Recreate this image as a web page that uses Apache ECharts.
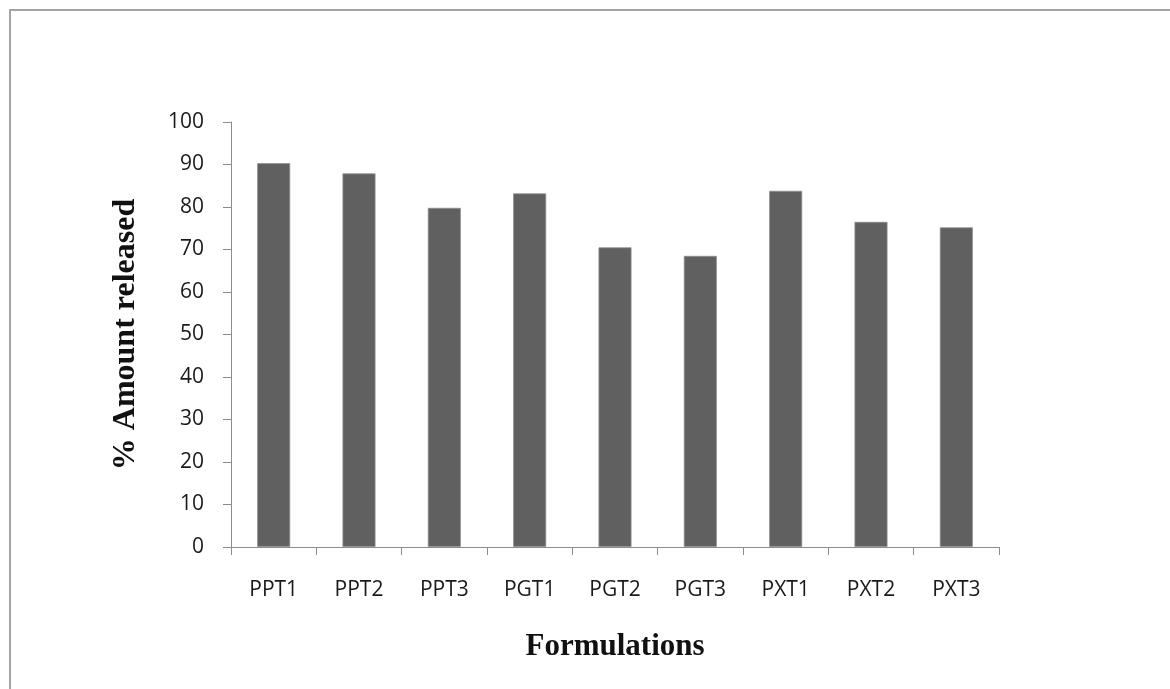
<!DOCTYPE html>
<html>
<head>
<meta charset="utf-8">
<script src="https://cdn.jsdelivr.net/npm/echarts@6/dist/echarts.min.js"></script>
<style>html,body{margin:0;padding:0;background:#fff;}#c{width:1170px;height:689px;}</style>
</head>
<body>
<div id="c"></div>
<script>
var categories = ['PPT1','PPT2','PPT3','PGT1','PGT2','PGT3','PXT1','PXT2','PXT3'];
var amountReleased = [90.3, 87.9, 79.8, 83.2, 70.5, 68.5, 83.8, 76.5, 75.2];
var yMin = 0, yMax = 100, yStep = 10;

var chart = echarts.init(document.getElementById('c'), null, {renderer:'canvas'});
chart.setOption({
  backgroundColor: '#fff',
  animation: false,
  graphic: [{
    type: 'polyline',
    shape: {points: [[10, 700], [10, 10], [1180, 10]]},
    style: {stroke: '#a3a3a3', lineWidth: 2, fill: null}
  }],
  grid: {left: 231, top: 122, right: 171, bottom: 142},
  xAxis: {
    type: 'category',
    data: categories,
    name: 'Formulations',
    nameLocation: 'middle',
    nameGap: 84,
    nameTextStyle: {fontFamily: 'Liberation Serif', fontWeight: 'bold', fontSize: 31, color: '#111', verticalAlign: 'top'},
    axisLine: {lineStyle: {color: '#8c8c8c', width: 1}},
    axisTick: {show: true, length: 8, lineStyle: {color: '#8c8c8c'}},
    axisLabel: {margin: 33, fontFamily: 'Open Sans', fontSize: 21, color: '#1a1a1a', verticalAlign: 'top'}
  },
  yAxis: {
    type: 'value',
    min: yMin, max: yMax, interval: yStep,
    name: '% Amount released',
    nameLocation: 'middle',
    nameGap: 89,
    nameTextStyle: {fontFamily: 'Liberation Serif', fontWeight: 'bold', fontSize: 32, color: '#111'},
    axisLine: {show: true, lineStyle: {color: '#8c8c8c', width: 1}},
    axisTick: {show: true, length: 8, lineStyle: {color: '#8c8c8c'}},
    splitLine: {show: false},
    axisLabel: {margin: 27, fontFamily: 'Open Sans', fontSize: 21, color: '#1a1a1a'}
  },
  series: [{
    type: 'bar',
    data: amountReleased,
    barWidth: 33,
    itemStyle: {color: '#606060', borderColor: '#8e8e8e', borderWidth: 0.8}
  }]
});
</script>
</body>
</html>
